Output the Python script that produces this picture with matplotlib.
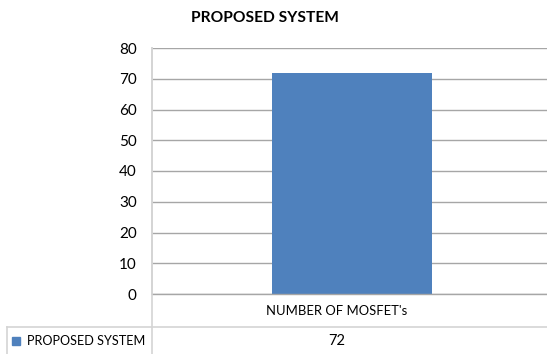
import matplotlib.pyplot as plt
from matplotlib.lines import Line2D

# Chart data
title = "PROPOSED SYSTEM"
categories = ["NUMBER OF MOSFET's"]
series_name = "PROPOSED SYSTEM"
values = [72]
y_ticks = [0, 10, 20, 30, 40, 50, 60, 70, 80]

W, H = 547, 354
bar_color = '#4f81bd'
grid_color = '#a6a6a6'
border_color = '#d4d4d4'

plt.rcParams['font.family'] = ['Lato', 'DejaVu Sans']

fig = plt.figure(figsize=(W / 100, H / 100), dpi=100)

# plot area in pixel terms: left axis at x=152, value 0 at y=294, 80 at y=48
ax = fig.add_axes([152 / W, (H - 294) / H, (W - 152) / W, (294 - 48) / H])
x = list(range(len(categories)))
ax.bar(x, values, width=0.4, color=bar_color, zorder=3)
ax.set_xlim(-0.5, 0.4875)
ax.set_ylim(0, 80)
ax.set_yticks(y_ticks)
ax.set_yticklabels([str(t) for t in y_ticks], fontsize=11)
ax.tick_params(axis='y', length=0, pad=11)
ax.set_xticks([])
ax.grid(axis='y', color=grid_color, linewidth=1.0, zorder=0)
ax.axhline(0, color=grid_color, linewidth=1.0, zorder=4, clip_on=False)
for side in ['top', 'right', 'bottom']:
    ax.spines[side].set_visible(False)
ax.spines['left'].set_color(border_color)
ax.spines['left'].set_linewidth(1.2)

fig.text(265 / W, 1 - 18 / H, title, ha='center', va='center',
         fontsize=11.2, fontweight='bold')


def px_line(x0, y0, x1, y1):
    fig.add_artist(Line2D([x0 / W, x1 / W], [1 - y0 / H, 1 - y1 / H],
                          color=border_color, linewidth=1.2))


# data table under the plot area
px_line(152, 48, 152, H)
px_line(7, 327, W, 327)
px_line(7, 327, 7, H)

# table column is centred a little left of the bar
col_x = 337
for i, cat in enumerate(categories):
    fig.text(col_x / W, 1 - 311 / H, cat, ha='center', va='center', fontsize=9.4)
    fig.text(col_x / W, 1 - 341 / H, str(values[i]), ha='center', va='center', fontsize=10.5)

fig.patches.append(plt.Rectangle((12 / W, 1 - 345 / H), 8 / W, 8 / H,
                                 transform=fig.transFigure, color=bar_color))
fig.text(27 / W, 1 - 341 / H, series_name, ha='left', va='center', fontsize=9.1)

fig.savefig('out.png', dpi=100)
